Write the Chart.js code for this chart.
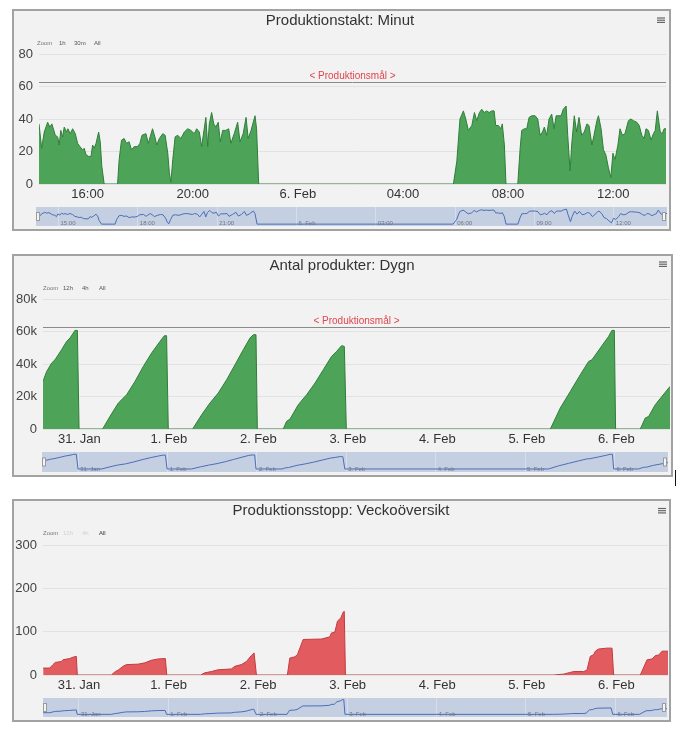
<!DOCTYPE html>
<html>
  <head>
    <title>Produktion</title>
    <meta charset="utf-8">
    <style>
      body { margin: 0; background: #fff; }
      .panel { position: absolute; box-sizing: border-box; border: 2px solid #a2a2a2; background: #f2f2f2; }
      .panel canvas { position: absolute; }
      .cursor { position: absolute; left: 675px; top: 470px; width: 1px; height: 16px; background: #111; }
    </style>
  </head>
  <body>
    <div class="panel" style="left:12px; top:9px; width:659px; height:222px;">
      <canvas id="taktChart" width="655" height="195" style="left:0; top:0;"></canvas>
      <canvas id="taktNav" width="631" height="19" style="left:22px; top:196px;"></canvas>
    </div>
    <div class="panel" style="left:12px; top:254px; width:661px; height:223px;">
      <canvas id="dygnChart" width="657" height="195" style="left:0; top:0;"></canvas>
      <canvas id="dygnNav" width="626" height="20" style="left:28px; top:196px;"></canvas>
    </div>
    <div class="panel" style="left:12px; top:499px; width:659px; height:223px;">
      <canvas id="stoppChart" width="655" height="196" style="left:0; top:0;"></canvas>
      <canvas id="stoppNav" width="624" height="19" style="left:29px; top:197px;"></canvas>
    </div>
    <div class="cursor"></div>

    <script src="https://cdn.jsdelivr.net/npm/chart.js"></script>
    <script>
      // Produktionstakt per minut, x = timmar från 5 feb 00:00
      var taktHour = [
        14.15, 14.25, 14.35, 14.48, 14.56, 14.64, 14.77, 14.86, 14.92, 14.98,
        15.05, 15.11, 15.20, 15.25, 15.34, 15.43, 15.53, 15.62, 15.71, 15.81,
        15.87, 15.94, 16.04, 16.13, 16.19, 16.25, 16.32, 16.42, 16.48, 16.54,
        16.63, 17.14, 17.20, 17.29, 17.39, 17.48, 17.58, 17.67, 17.77, 17.90,
        17.99, 18.07, 18.22, 18.31, 18.38, 18.47, 18.56, 18.63, 18.73, 18.86,
        18.95, 19.05, 19.11, 19.17, 19.24, 19.33, 19.43, 19.55, 19.68, 19.81,
        19.93, 20.06, 20.15, 20.25, 20.34, 20.42, 20.50, 20.57, 20.63, 20.72,
        20.80, 20.88, 20.97, 21.05, 21.14, 21.26, 21.37, 21.45, 21.58, 21.71,
        21.80, 21.92, 22.03, 22.11, 22.22, 22.37, 22.43, 22.51, 29.92, 30.05,
        30.17, 30.30, 30.39, 30.49, 30.62, 30.72, 30.81, 30.91, 31.00, 31.09,
        31.19, 31.28, 31.38, 31.47, 31.53, 31.63, 31.73, 31.78, 31.86, 31.92,
        32.37, 32.46, 32.52, 32.62, 32.71, 32.80, 32.90, 33.03, 33.13, 33.22,
        33.31, 33.38, 33.47, 33.56, 33.66, 33.75, 33.83, 33.91, 34.02, 34.10,
        34.21, 34.27, 34.36, 34.42, 34.52, 34.61, 34.70, 34.80, 34.90, 35.00,
        35.08, 35.19, 35.27, 35.38, 35.44, 35.54, 35.63, 35.72, 35.82, 35.91,
        35.99, 36.07, 36.18, 36.26, 36.35, 36.45, 36.58, 36.67, 36.77, 36.90,
        36.99, 37.09, 37.18, 37.25, 37.34, 37.44, 37.53, 37.60, 37.68, 37.79,
        37.87, 37.94, 38.01
      ];
      var taktValue = [
        37, 22, 32, 38, 35, 37, 30, 29, 24, 33,
        29, 35, 32, 34, 31, 34, 31, 25, 23, 21,
        22, 18, 17, 17, 24, 22, 25, 32, 26, 11,
        0, 0, 15, 27, 28, 25, 26, 21, 23, 23,
        25, 30, 31, 25, 29, 34, 29, 24, 28, 31,
        30, 19, 7, 1, 15, 29, 30, 28, 32, 34,
        33, 31, 34, 32, 23, 32, 41, 23, 37, 44,
        37, 35, 38, 26, 33, 33, 34, 25, 31, 38,
        26, 31, 41, 28, 33, 42, 34, 0, 0, 14,
        40, 45, 40, 33, 36, 44, 39, 44, 46, 44,
        45, 44, 45, 45, 36, 36, 34, 37, 24, 0,
        0, 22, 33, 34, 34, 41, 42, 42, 40, 30,
        32, 35, 30, 40, 43, 34, 42, 42, 42, 46,
        48, 30, 8, 24, 42, 32, 41, 30, 32, 37,
        36, 24, 30, 39, 42, 34, 21, 18, 10, 4,
        19, 15, 24, 34, 30, 31, 39, 40, 39, 38,
        36, 30, 28, 34, 33, 27, 31, 33, 45, 32,
        31, 34, 34
      ];
      var taktGoal = 63;
      var taktTicks = [16, 20, 24, 28, 32, 36];
      var taktTickLabels = ['16:00', '20:00', '6. Feb', '04:00', '08:00', '12:00'];
      var taktNavTicks = [15, 18, 21, 24, 27, 30, 33, 36];
      var taktNavLabels = ['15:00', '18:00', '21:00', '6. Feb', '03:00', '06:00', '09:00', '12:00'];

      // Antal produkter per dygn, x = dagar från 31 jan 00:00
      var dygnDay = [
        -0.406, -0.365, -0.309, -0.272, -0.198, -0.142, -0.104, -0.067, -0.048, -0.022, -0.003,
        0.26, 0.343, 0.436, 0.529, 0.622, 0.715, 0.808, 0.901, 0.95, 0.975, 0.994,
        1.266, 1.367, 1.46, 1.553, 1.646, 1.74, 1.832, 1.907, 1.944, 1.974, 1.989,
        2.279, 2.316, 2.354, 2.447, 2.54, 2.634, 2.726, 2.819, 2.875, 2.931, 2.961, 2.983,
        5.263, 5.374, 5.486, 5.598, 5.691, 5.728, 5.821, 5.914, 5.952, 5.978, 5.992,
        6.268, 6.324, 6.361, 6.436, 6.511, 6.6
      ];
      var dygnCount = [
        29300, 35400, 40600, 42600, 48800, 53900, 56000, 59100, 60700, 60700, 0,
        0, 7800, 16000, 21100, 29300, 38500, 46800, 53900, 57400, 57400, 0,
        0, 8800, 16000, 22200, 30300, 39600, 48800, 56000, 58000, 58000, 0,
        0, 4700, 6100, 15000, 21100, 28300, 36500, 44700, 47800, 51300, 50800, 0,
        0, 12900, 23100, 33400, 41600, 42600, 49800, 57000, 60700, 60700, 0,
        0, 6800, 7700, 15000, 20100, 26200
      ];
      var dygnGoal = 63000;

      // Produktionsstopp (minuter), x = dagar från 31 jan 00:00
      var stoppDay = [
        -0.40, -0.327, -0.29, -0.265, -0.198, -0.179, -0.104, -0.067, -0.03, -0.019,
        0.361, 0.406, 0.436, 0.492, 0.529, 0.659, 0.734, 0.808, 0.883, 0.964, 0.98,
        1.36, 1.404, 1.478, 1.553, 1.702, 1.739, 1.813, 1.869, 1.925, 1.955, 1.981,
        2.327, 2.354, 2.41, 2.439, 2.503, 2.707, 2.801, 2.819, 2.857, 2.886, 2.924, 2.95, 2.962, 2.975,
        5.30, 5.411, 5.486, 5.523, 5.635, 5.672, 5.709, 5.747, 5.766, 5.802, 5.896, 5.952, 5.97,
        6.268, 6.343, 6.399, 6.436, 6.473, 6.511, 6.577
      ];
      var stoppMin = [
        16, 16, 24, 29, 31, 35, 38, 41, 43, 0,
        0, 8, 11, 20, 24, 25, 28, 34, 37, 38, 0,
        0, 5, 8, 12, 14, 20, 24, 31, 45, 51, 0,
        0, 39, 42, 47, 82, 83, 88, 97, 99, 124, 132, 145, 147, 0,
        0, 2, 6, 8, 8, 11, 43, 47, 55, 60, 62, 62, 0,
        0, 35, 37, 45, 46, 55, 55
      ];

      var dayTicks = [0, 1, 2, 3, 4, 5, 6];
      var dayLabels = ['31. Jan', '1. Feb', '2. Feb', '3. Feb', '4. Feb', '5. Feb', '6. Feb'];

      Chart.defaults.font.family = '"Liberation Sans", Arial, sans-serif';
      Chart.defaults.color = '#444';

      function points(xs, ys) {
        return xs.map(function (x, i) { return { x: x, y: ys[i] }; });
      }

      function fixedTicks(values) {
        return function (scale) {
          scale.ticks = values.map(function (v) { return { value: v }; });
        };
      }

      // target line, menu icon and range buttons
      function decorPlugin(d) {
        return {
          id: 'decor',
          afterDraw: function (chart) {
            var ctx = chart.ctx;
            var area = chart.chartArea;
            ctx.save();
            if (d.goal !== undefined) {
              var y = Math.round(chart.scales.y.getPixelForValue(d.goal)) + 0.5;
              ctx.strokeStyle = '#8a8a8a';
              ctx.lineWidth = 1;
              ctx.beginPath();
              ctx.moveTo(area.left, y);
              ctx.lineTo(area.right, y);
              ctx.stroke();
              ctx.fillStyle = '#e0464e';
              ctx.font = '10px "Liberation Sans", Arial, sans-serif';
              ctx.textAlign = 'center';
              ctx.textBaseline = 'bottom';
              ctx.fillText('< Produktionsmål >', (area.left + area.right) / 2, y - 1);
            }
            ctx.strokeStyle = '#666';
            ctx.lineWidth = 1.2;
            for (var i = 0; i < 3; i++) {
              ctx.beginPath();
              ctx.moveTo(d.menuX, d.menuY + i * 2.2);
              ctx.lineTo(d.menuX + 8, d.menuY + i * 2.2);
              ctx.stroke();
            }
            ctx.font = '6px "Liberation Sans", Arial, sans-serif';
            ctx.textAlign = 'left';
            ctx.textBaseline = 'middle';
            d.buttons.forEach(function (b) {
              ctx.fillStyle = b.c;
              ctx.fillText(b.t, b.x, d.btnY);
            });
            ctx.restore();
          }
        };
      }

      // navigator band, tick labels and handles
      function navPlugin(ticks, labels) {
        return {
          id: 'navBand',
          beforeDraw: function (chart) {
            var a = chart.chartArea;
            var ctx = chart.ctx;
            ctx.save();
            ctx.fillStyle = 'rgba(102, 133, 194, 0.32)';
            ctx.fillRect(a.left, a.top, a.right - a.left, a.bottom - a.top);
            ctx.restore();
          },
          afterDraw: function (chart) {
            var a = chart.chartArea;
            var ctx = chart.ctx;
            var xScale = chart.scales.x;
            var mid = (a.top + a.bottom) / 2;
            ctx.save();
            ctx.font = '6px "Liberation Sans", Arial, sans-serif';
            ctx.fillStyle = '#6d7487';
            ctx.textAlign = 'left';
            ctx.textBaseline = 'middle';
            ticks.forEach(function (t, i) {
              ctx.fillText(labels[i], xScale.getPixelForValue(t) + 2, a.bottom - 3);
            });
            ctx.fillStyle = '#f4f4f4';
            ctx.strokeStyle = '#9a9a9a';
            ctx.lineWidth = 1;
            ctx.fillRect(a.left + 0.5, mid - 4, 3, 8);
            ctx.strokeRect(a.left + 0.5, mid - 4, 3, 8);
            ctx.fillRect(a.right - 4.5, mid - 4, 3, 8);
            ctx.strokeRect(a.right - 4.5, mid - 4, 3, 8);
            ctx.restore();
          }
        };
      }

      function mainChart(id, c) {
        return new Chart(document.getElementById(id), {
          type: 'line',
          data: {
            datasets: [{
              data: points(c.xs, c.ys),
              fill: 'origin',
              backgroundColor: c.fill,
              borderColor: c.line,
              borderWidth: 1,
              pointRadius: 0,
              tension: 0
            }]
          },
          options: {
            responsive: false,
            animation: false,
            layout: { autoPadding: false, padding: { right: c.padRight } },
            plugins: {
              legend: { display: false },
              tooltip: { enabled: false },
              title: {
                display: true,
                text: c.title,
                color: '#333',
                font: { size: 15, weight: 'normal' },
                padding: { top: 1, bottom: c.titleGap }
              }
            },
            scales: {
              x: {
                type: 'linear',
                min: c.min,
                max: c.max,
                afterBuildTicks: fixedTicks(c.ticks),
                afterFit: function (s) { s.height = 22; },
                grid: { display: false, drawTicks: false },
                border: { display: false },
                ticks: {
                  autoSkip: false,
                  maxRotation: 0,
                  padding: 3,
                  color: '#333',
                  font: { size: 13 },
                  callback: function (v, i) { return c.labels[i]; }
                }
              },
              y: {
                min: 0,
                max: c.yMax,
                afterFit: function (s) { s.width = c.yWidth; },
                grid: { color: '#e2e2e2', drawTicks: false },
                border: { display: false },
                ticks: {
                  stepSize: c.yStep,
                  padding: 6,
                  color: '#444',
                  font: { size: 13 },
                  callback: c.yFormat
                }
              }
            }
          },
          plugins: [decorPlugin(c.decor)]
        });
      }

      function navChart(id, c) {
        return new Chart(document.getElementById(id), {
          type: 'line',
          data: {
            datasets: [{
              data: points(c.xs, c.ys),
              fill: false,
              borderColor: '#4b6cb7',
              borderWidth: 1,
              pointRadius: 0,
              tension: 0
            }]
          },
          options: {
            responsive: false,
            animation: false,
            layout: { autoPadding: false },
            plugins: { legend: { display: false }, tooltip: { enabled: false } },
            scales: {
              x: {
                type: 'linear',
                min: c.min,
                max: c.max,
                afterBuildTicks: fixedTicks(c.ticks),
                afterFit: function (s) { s.height = 0; },
                grid: { color: 'rgba(255, 255, 255, 0.3)', drawTicks: false },
                border: { display: false },
                ticks: { display: false }
              },
              y: { display: false, min: c.yMin, max: c.yMax }
            }
          },
          plugins: [navPlugin(c.ticks, c.labels)]
        });
      }

      var plainNumber = function (v) { return String(v); };

      mainChart('taktChart', {
        title: 'Produktionstakt: Minut',
        xs: taktHour, ys: taktValue,
        fill: '#4da357', line: '#2f7d3a',
        min: 14.15, max: 38.01,
        ticks: taktTicks, labels: taktTickLabels,
        yMax: 80, yStep: 20, yWidth: 25, yFormat: plainNumber,
        padRight: 3, titleGap: 24,
        decor: {
          goal: taktGoal, menuX: 643, menuY: 7, btnY: 32,
          buttons: [
            { t: 'Zoom', x: 23, c: '#777' },
            { t: '1h', x: 45, c: '#555' },
            { t: '30m', x: 60, c: '#555' },
            { t: 'All', x: 80, c: '#555' }
          ]
        }
      });
      navChart('taktNav', {
        xs: taktHour, ys: taktValue,
        min: 14.15, max: 38.01,
        ticks: taktNavTicks, labels: taktNavLabels,
        yMin: -6, yMax: 55
      });

      mainChart('dygnChart', {
        title: 'Antal produkter: Dygn',
        xs: dygnDay, ys: dygnCount,
        fill: '#4da357', line: '#2f7d3a',
        min: -0.406, max: 6.6,
        ticks: dayTicks, labels: dayLabels,
        yMax: 80000, yStep: 20000, yWidth: 29,
        yFormat: function (v) { return v === 0 ? '0' : (v / 1000) + 'k'; },
        padRight: 1, titleGap: 24,
        decor: {
          goal: dygnGoal, menuX: 645, menuY: 6, btnY: 32,
          buttons: [
            { t: 'Zoom', x: 29, c: '#777' },
            { t: '12h', x: 49, c: '#555' },
            { t: '4h', x: 68, c: '#555' },
            { t: 'All', x: 85, c: '#555' }
          ]
        }
      });
      navChart('dygnNav', {
        xs: dygnDay, ys: dygnCount,
        min: -0.406, max: 6.6,
        ticks: dayTicks, labels: dayLabels,
        yMin: -12400, yMax: 70200
      });

      mainChart('stoppChart', {
        title: 'Produktionsstopp: Veckoöversikt',
        xs: stoppDay, ys: stoppMin,
        fill: '#e15b5f', line: '#c23b3f',
        min: -0.402, max: 6.577,
        ticks: dayTicks, labels: dayLabels,
        yMax: 300, yStep: 100, yWidth: 29, yFormat: plainNumber,
        padRight: 1, titleGap: 25,
        decor: {
          menuX: 644, menuY: 7.5, btnY: 32,
          buttons: [
            { t: 'Zoom', x: 29, c: '#777' },
            { t: '12h', x: 49, c: '#d0d0d0' },
            { t: '4h', x: 68, c: '#d0d0d0' },
            { t: 'All', x: 85, c: '#333' }
          ]
        }
      });
      navChart('stoppNav', {
        xs: stoppDay, ys: stoppMin,
        min: -0.402, max: 6.577,
        ticks: dayTicks, labels: dayLabels,
        yMin: -26, yMax: 160
      });
    </script>
  </body>
</html>
